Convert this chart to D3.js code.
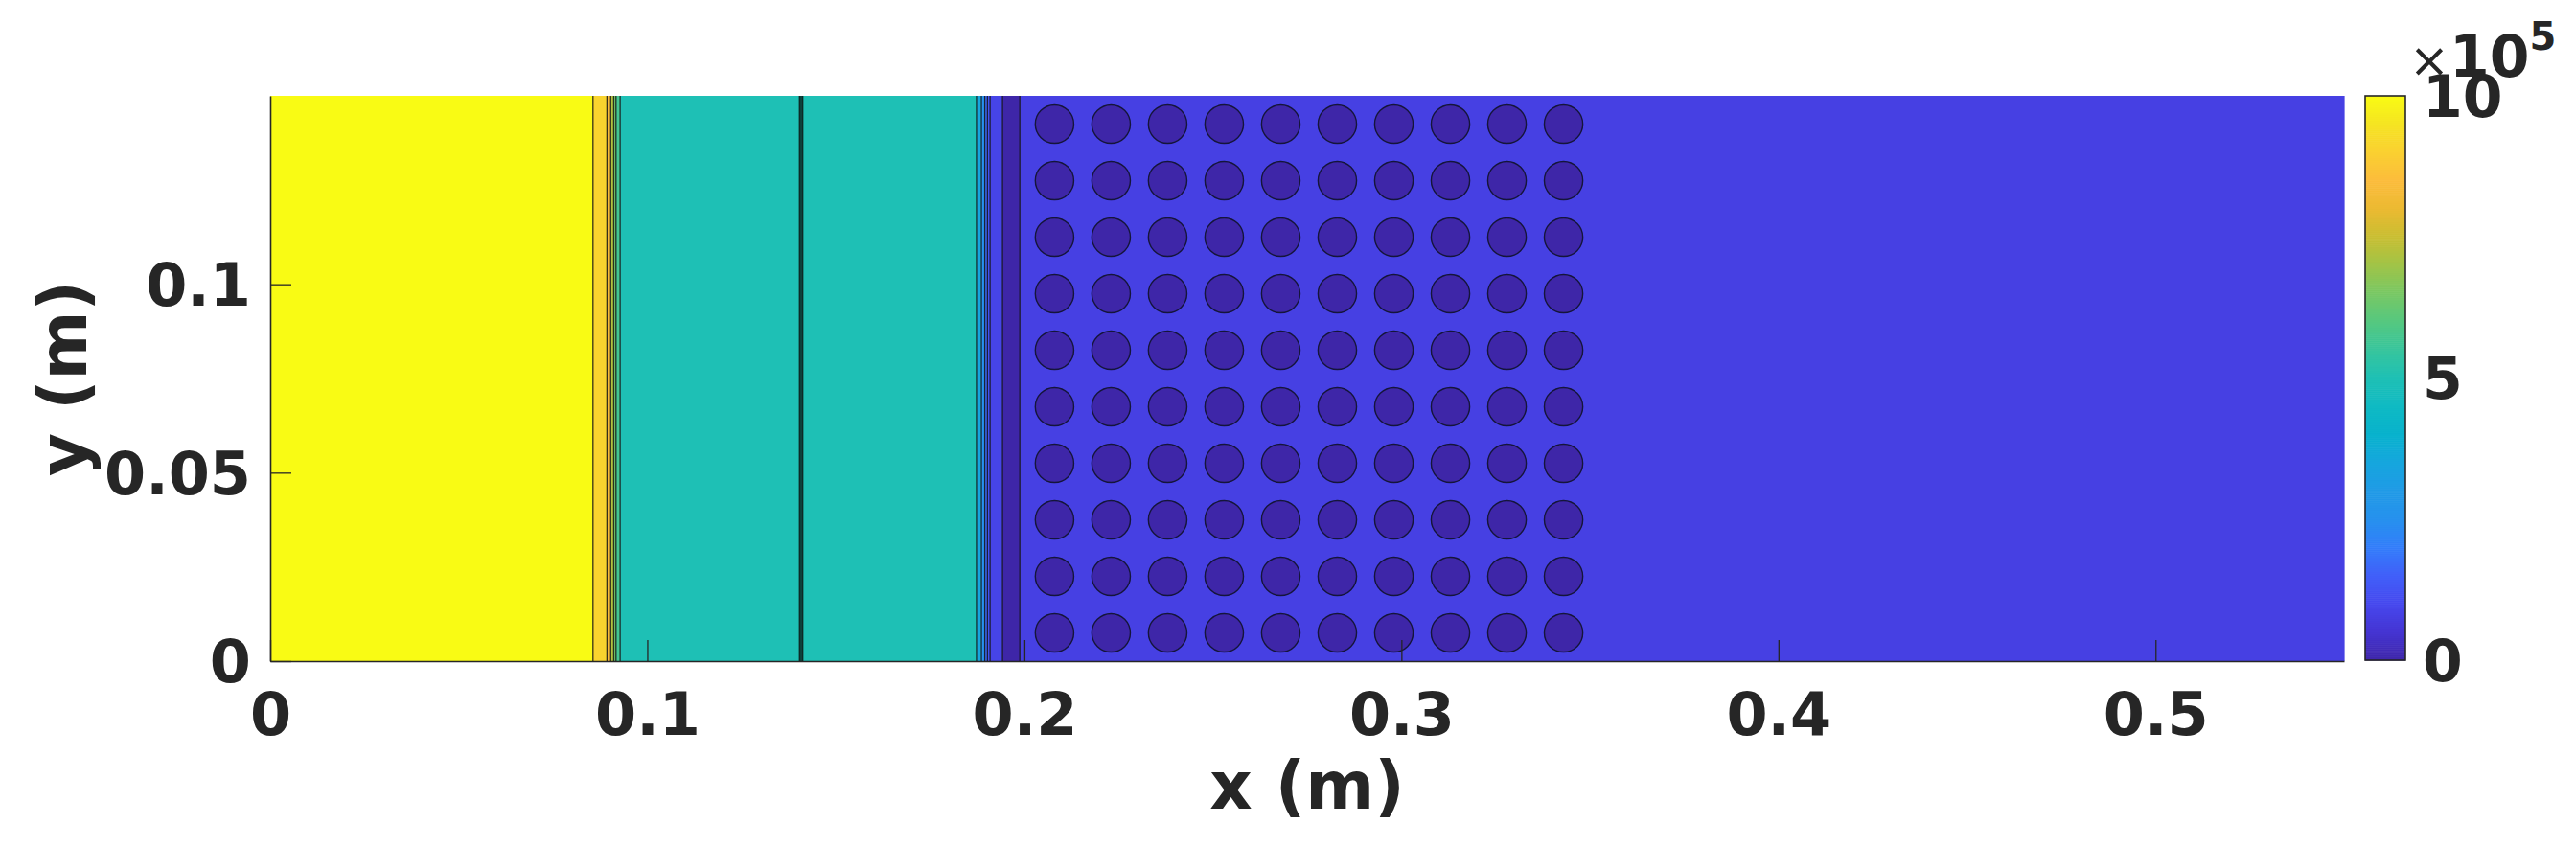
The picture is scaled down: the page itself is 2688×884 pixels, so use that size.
<!DOCTYPE html>
<html><head><meta charset="utf-8">
<script src="https://cdn.jsdelivr.net/npm/d3@7"></script>
<style>
html,body{margin:0;padding:0;background:#fff;}
svg{display:block;}
</style>
</head><body>
<svg id="chart" width="2688" height="884"></svg>
<script>
// ---- data ----
// vertical pressure bands along x (m): edges and band values (Pa)
const bandEdges  = [0, 0.0856, 0.0893, 0.0903, 0.0911, 0.0917, 0.0928, 0.1873, 0.1886, 0.1895, 0.1902, 0.1909, 0.1942, 0.1988, 0.55];
const bandValues = [1.0e6, 9.1e5, 8.4e5, 7.2e5, 6.4e5, 5.7e5, 5.0e5, 3.5e5, 2.5e5, 1.7e5, 1.2e5, 9.0e4, 0, 8.0e4];
// bunched contour lines (contact surface)
const contourLinesX = [0.1404, 0.1408, 0.1412];
// cylinder array
const circleX = [0.208, 0.223, 0.238, 0.253, 0.268, 0.283, 0.298, 0.313, 0.328, 0.343];
const circleY = [0.0075, 0.0225, 0.0375, 0.0525, 0.0675, 0.0825, 0.0975, 0.1125, 0.1275, 0.1425];
const circleR = 0.0051;
const circleValue = 0;
// axes
const xDomain = [0, 0.55];
const yDomain = [0, 0.15];
const xTicks = [0, 0.1, 0.2, 0.3, 0.4, 0.5];
const xTickLabels = ["0", "0.1", "0.2", "0.3", "0.4", "0.5"];
const yTicks = [0, 0.05, 0.1];
const yTickLabels = ["0", "0.05", "0.1"];
const cbDomain = [0, 1e6];
const cbTicks = [0, 5e5, 1e6];
const cbTickLabels = ["0", "5", "10"];
const xLabel = "x (m)";
const yLabel = "y (m)";
// parula colormap stops (fraction -> colour)
const parulaPos = [0.00, 0.05, 0.10, 0.15, 0.20, 0.25, 0.30, 0.35, 0.40, 0.45, 0.50, 0.55, 0.60, 0.65, 0.70, 0.75, 0.80, 0.85, 0.90, 0.95, 1.00];
const parulaCol = ["#3E26A8", "#4534D2", "#4648EE", "#415FF9", "#327DFA", "#2791EE", "#209AE6", "#16A6DE", "#08B2CD", "#0FBAC3", "#1EC0B5", "#37C59D", "#55C880", "#78C864", "#A0C448", "#C8BE32", "#EBBA32", "#FCBC3C", "#FAD031", "#F5E422", "#F9FB14"];

// ---- layout ----
const L = 282, R = 2446, T = 100, B = 690;
const cbL = 2468, cbR = 2510;
const textColor = "#262626";
const font = "'DejaVu Sans', sans-serif";

const svg = d3.select("#chart");
svg.append("rect").attr("width", 2688).attr("height", 884).attr("fill", "#fff");

const x = d3.scaleLinear().domain(xDomain).range([L, R]);
const y = d3.scaleLinear().domain(yDomain).range([B, T]);
const frac = d3.scaleLinear().domain(cbDomain).range([0, 1]);
const parula = d3.scaleLinear().domain(parulaPos).range(parulaCol).interpolate(d3.interpolateRgb).clamp(true);
const color = v => parula(frac(v));

const plot = svg.append("g");
// bands
const bands = bandValues.map((v, i) => ({x0: bandEdges[i], x1: bandEdges[i + 1], v}));
plot.selectAll("rect.band").data(bands).join("rect")
  .attr("class", "band")
  .attr("x", d => x(d.x0)).attr("width", d => x(d.x1) - x(d.x0) + 0.6)
  .attr("y", y(yDomain[1])).attr("height", y(yDomain[0]) - y(yDomain[1]))
  .attr("fill", d => color(d.v));
// contour edges between bands
plot.selectAll("line.edge").data(bandEdges.slice(1, -1)).join("line")
  .attr("class", "edge")
  .attr("x1", d => x(d)).attr("x2", d => x(d))
  .attr("y1", y(yDomain[1])).attr("y2", y(yDomain[0]))
  .attr("stroke", "#141414").attr("stroke-opacity", 0.85).attr("stroke-width", 1.3);
plot.selectAll("line.cl").data(contourLinesX).join("line")
  .attr("class", "cl")
  .attr("x1", d => x(d)).attr("x2", d => x(d))
  .attr("y1", y(yDomain[1])).attr("y2", y(yDomain[0]))
  .attr("stroke", "#0c2a26").attr("stroke-width", 1.6);
// cylinders
const circles = [];
circleX.forEach(cx => circleY.forEach(cy => circles.push({cx, cy})));
plot.selectAll("circle.cyl").data(circles).join("circle")
  .attr("class", "cyl")
  .attr("cx", d => x(d.cx)).attr("cy", d => y(d.cy))
  .attr("r", x(circleR) - x(0))
  .attr("fill", color(circleValue))
  .attr("stroke", "#15153a").attr("stroke-width", 1.4);

// ---- axes ----
const xAxis = d3.axisBottom(x).tickValues(xTicks).tickFormat((d, i) => xTickLabels[i])
  .tickSizeInner(-22).tickSizeOuter(0).tickPadding(33);
const gx = svg.append("g").attr("transform", `translate(0,${B})`).call(xAxis);
const yAxis = d3.axisLeft(y).tickValues(yTicks).tickFormat((d, i) => yTickLabels[i])
  .tickSizeInner(-22).tickSizeOuter(0).tickPadding(20);
const gy = svg.append("g").attr("transform", `translate(${L},0)`).call(yAxis);
[gx, gy].forEach(g => {
  g.select(".domain").attr("stroke", textColor).attr("stroke-width", 1.6);
  g.selectAll(".tick line").attr("stroke", textColor).attr("stroke-width", 1.3);
  g.selectAll(".tick text").attr("fill", textColor).attr("font-family", font)
    .attr("font-weight", "bold").attr("font-size", 62);
});
gy.selectAll(".tick text").attr("dy", "0.35em");

svg.append("text").attr("x", (L + R) / 2).attr("y", 844)
  .attr("text-anchor", "middle").attr("font-family", font).attr("font-weight", "bold")
  .attr("font-size", 69).attr("fill", textColor).text(xLabel);
svg.append("text").attr("transform", `translate(90,${(T + B) / 2}) rotate(-90)`)
  .attr("text-anchor", "middle").attr("font-family", font).attr("font-weight", "bold")
  .attr("font-size", 69).attr("fill", textColor).text(yLabel);

// ---- colorbar ----
const cbY = d3.scaleLinear().domain(cbDomain).range([B - 1, T]);
const nSteps = 300;
const steps = d3.range(nSteps).map(i => cbDomain[0] + (cbDomain[1] - cbDomain[0]) * i / nSteps);
const dv = (cbDomain[1] - cbDomain[0]) / nSteps;
svg.append("g").selectAll("rect").data(steps).join("rect")
  .attr("x", cbL).attr("width", cbR - cbL)
  .attr("y", d => cbY(d + dv)).attr("height", d => cbY(d) - cbY(d + dv) + 0.6)
  .attr("fill", d => color(d + dv / 2));
svg.append("rect").attr("x", cbL).attr("y", cbY(cbDomain[1])).attr("width", cbR - cbL)
  .attr("height", cbY(cbDomain[0]) - cbY(cbDomain[1]))
  .attr("fill", "none").attr("stroke", textColor).attr("stroke-width", 1.6);
const cbAxis = d3.axisRight(cbY).tickValues(cbTicks).tickFormat((d, i) => cbTickLabels[i])
  .tickSize(0).tickPadding(18);
const gcb = svg.append("g").attr("transform", `translate(${cbR},0)`).call(cbAxis);
gcb.select(".domain").remove();
gcb.selectAll(".tick text").attr("fill", textColor).attr("font-family", font)
  .attr("font-weight", "bold").attr("font-size", 60).attr("dy", "0.35em");

const exp = svg.append("text").attr("x", 2514).attr("y", 80)
  .attr("font-family", font).attr("fill", textColor);
exp.append("tspan").attr("font-size", 50).attr("font-weight", "normal").text("×");
exp.append("tspan").attr("font-size", 60).attr("font-weight", "bold").text("10");
exp.append("tspan").attr("font-size", 40).attr("font-weight", "bold").attr("dy", -28).text("5");
</script>
</body></html>
